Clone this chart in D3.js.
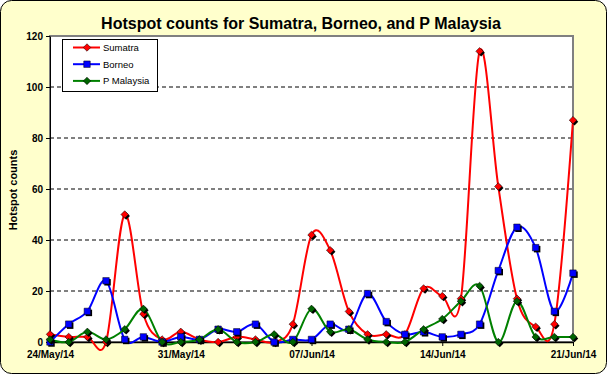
<!DOCTYPE html>
<html>
<head>
<meta charset="utf-8">
<script src="https://cdn.jsdelivr.net/npm/d3@7"></script>
<style>
  body { margin: 0; background: #fff; }
  svg { display: block; font-family: "Liberation Sans", Arial, sans-serif; }
</style>
</head>
<body>
<svg width="607" height="374"></svg>
<script>
// daily counts, 24 May 2014 to 21 Jun 2014
const startDay = '24/May/14';
const endDay = '21/Jun/14';
const sumatra   = [3, 2, 2, 0, 50, 11, 1, 4, 1, 0, 2, 1, 0, 7, 42, 36, 12, 3, 3, 3, 21, 18, 17, 114, 61, 17, 6, 7, 87];
const borneo    = [0, 7, 12, 24, 1, 2, 0, 2, 1, 5, 4, 7, 0, 1, 1, 7, 5, 19, 8, 3, 4, 2, 3, 7, 28, 45, 37, 12, 27];
const pMalaysia = [1, 0, 4, 1, 5, 13, 0, 0, 1, 5, 0, 0, 3, 0, 13, 4, 5, 1, 0, 0, 5, 9, 16, 22, 0, 16, 2, 2, 2];
const xTickLabels = ['24/May/14', '31/May/14', '07/Jun/14', '14/Jun/14', '21/Jun/14'];
const yTicks = [0, 20, 40, 60, 80, 100, 120];

const parse = d3.timeParse('%d/%b/%y');
const fmt = d3.timeFormat('%d/%b/%y');
const days = d3.timeDay.range(parse(startDay), d3.timeDay.offset(parse(endDay), 1));

const series = [
  {name: 'Sumatra', values: sumatra, color: '#ff0000', fill: '#ff0000', marker: 'diamond'},
  {name: 'Borneo', values: borneo, color: '#0000ff', fill: '#0000ff', marker: 'square'},
  {name: 'P Malaysia', values: pMalaysia, color: '#008000', fill: '#006400', marker: 'diamond'}
];

const svg = d3.select('svg');
const plotL = 50, plotR = 573, plotT = 36, plotB = 342;

const x = d3.scaleTime().domain([days[0], days[days.length - 1]]).range([plotL, plotR]);
const y = d3.scaleLinear().domain([0, 120]).range([plotB, plotT]);

// background
svg.append('rect')
  .attr('x', 0.5).attr('y', 0.5).attr('width', 606).attr('height', 373)
  .attr('rx', 11).attr('ry', 11)
  .attr('fill', '#ffffcc').attr('stroke', '#000');

svg.append('text')
  .attr('x', 301).attr('y', 29)
  .attr('text-anchor', 'middle')
  .attr('font-size', 16).attr('font-weight', 'bold')
  .text('Hotspot counts for Sumatra, Borneo, and P Malaysia');

// plot area
svg.append('rect')
  .attr('x', plotL).attr('y', plotT).attr('width', plotR - plotL).attr('height', plotB - plotT)
  .attr('fill', '#fff').attr('stroke', '#808080').attr('stroke-width', 2);

svg.append('g')
  .selectAll('line')
  .data(yTicks.filter(d => d > 0 && d < 120))
  .enter()
  .append('line')
  .attr('x1', plotL).attr('x2', plotR)
  .attr('y1', d => y(d)).attr('y2', d => y(d))
  .attr('stroke', '#000').attr('stroke-dasharray', '4,3');

// axes
const yAxis = svg.append('g')
  .attr('transform', `translate(${plotL},0)`)
  .call(d3.axisLeft(y).tickValues(yTicks).tickSize(4).tickSizeOuter(0).tickPadding(3));
yAxis.select('.domain').attr('stroke', '#000');
yAxis.selectAll('text').attr('font-size', 10).attr('font-weight', 'bold').attr('fill', '#000')
  .attr('font-family', '"Liberation Sans", Arial, sans-serif');

const xAxis = svg.append('g')
  .attr('transform', `translate(0,${plotB})`)
  .call(d3.axisBottom(x).tickValues(xTickLabels.map(parse)).tickFormat(fmt)
    .tickSize(4).tickSizeOuter(0).tickPadding(5));
xAxis.select('.domain').attr('stroke', '#000').attr('stroke-width', 1.5);
xAxis.selectAll('text').attr('font-size', 10).attr('font-weight', 'bold').attr('fill', '#000')
  .attr('font-family', '"Liberation Sans", Arial, sans-serif');

svg.append('text')
  .attr('transform', 'translate(17,190) rotate(-90)')
  .attr('text-anchor', 'middle')
  .attr('font-size', 11).attr('font-weight', 'bold')
  .text('Hotspot counts');

// lines
const line = d3.line()
  .x((d, i) => x(days[i]))
  .y(d => y(d))
  .curve(d3.curveCardinal.tension(0));

// diamond = square turned 45 degrees
const sym = d3.symbol().type(d3.symbolSquare).size(40);
const rot = m => m === 'diamond' ? ' rotate(45)' : '';

series.forEach(s => {
  svg.append('path')
    .datum(s.values)
    .attr('d', line)
    .attr('fill', 'none')
    .attr('stroke', s.color)
    .attr('stroke-width', 2);
});

series.forEach(s => {
  const g = svg.append('g');
  const sz = s.marker === 'diamond' ? 28 : 42;
  g.selectAll('.shadow')
    .data(s.values)
    .enter()
    .append('path')
    .classed('shadow', true)
    .attr('d', sym.size(sz)())
    .attr('transform', (d, i) => `translate(${x(days[i]) + 1.5},${y(d) + 1.5})` + rot(s.marker))
    .attr('fill', '#000');
  g.selectAll('.mark')
    .data(s.values)
    .enter()
    .append('path')
    .classed('mark', true)
    .attr('d', sym.size(sz)())
    .attr('transform', (d, i) => `translate(${x(days[i])},${y(d)})` + rot(s.marker))
    .attr('fill', s.fill)
    .attr('stroke', '#000').attr('stroke-width', 0.5);
});

// legend
const legend = svg.append('g').attr('transform', 'translate(62,39)');
legend.append('rect')
  .attr('x', 0.5).attr('y', 0.5).attr('width', 95).attr('height', 52)
  .attr('fill', '#fff').attr('stroke', '#000');

const rows = legend.selectAll('.row')
  .data(series)
  .enter()
  .append('g')
  .attr('transform', (d, i) => `translate(0,${8.5 + i * 16.7})`);
rows.append('line')
  .attr('x1', 11).attr('x2', 38)
  .attr('stroke', d => d.color).attr('stroke-width', 2);
rows.append('path')
  .attr('d', d => sym.size(d.marker === 'diamond' ? 28 : 42)())
  .attr('transform', d => 'translate(25,0)' + rot(d.marker))
  .attr('fill', d => d.fill)
  .attr('stroke', '#000').attr('stroke-width', 0.5);
rows.append('text')
  .attr('x', 41).attr('y', 3.5)
  .attr('font-size', 9.5)
  .text(d => d.name);
</script>
</body>
</html>
